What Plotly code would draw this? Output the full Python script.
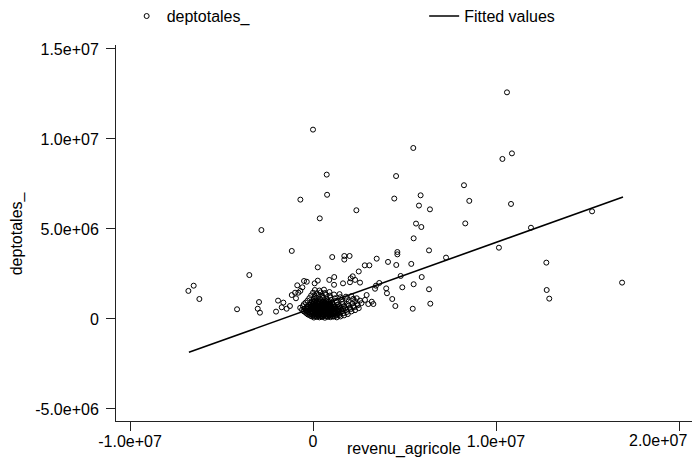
import plotly.graph_objects as go

# values in millions
# scattered observations (revenu_agricole, deptotales_)
outliers = [
    (0.0, 10.52), (0.75, 8.02), (0.77, 6.9), (-0.69, 6.63), (2.37, 6.04), (0.37, 5.59),
    (-2.82, 4.94), (-1.16, 3.78), (1.05, 3.44), (1.71, 3.5), (2.0, 3.5), (1.71, 3.3),
    (3.48, 3.35), (10.6, 12.59), (5.48, 9.5), (10.87, 9.2), (10.35, 8.89), (4.54, 7.94),
    (8.25, 7.43), (4.44, 6.69), (5.88, 6.87), (8.54, 6.56), (5.79, 6.3), (6.39, 6.09),
    (10.82, 6.39), (5.63, 5.3), (5.92, 5.11), (8.32, 5.31), (15.25, 5.98), (11.91, 5.07),
    (5.5, 4.48), (10.16, 3.96), (4.61, 3.72), (4.61, 3.59), (6.34, 3.81), (7.27, 3.41),
    (4.1, 3.17), (4.55, 3.0), (5.37, 3.06), (12.75, 3.13), (4.79, 2.39), (5.94, 2.33),
    (4.0, 1.7), (4.04, 1.43), (4.88, 1.76), (5.5, 1.93), (6.34, 1.65), (12.77, 1.61),
    (12.91, 1.13), (16.89, 2.02), (4.33, 1.11), (4.5, 0.72), (5.45, 0.57), (6.41, 0.85),
    (-6.81, 1.56), (-6.52, 1.85), (-6.21, 1.11), (-4.15, 0.54), (-3.48, 2.44),
    (2.83, 2.98), (3.08, 2.98), (0.26, 2.87), (2.5, 2.64), (3.44, 1.85), (3.62, 2.0),
    (3.39, 1.68), (2.57, 2.02), (2.17, 2.37), (2.06, 2.26), (2.3, 2.17), (1.16, 2.33),
    (0.89, 2.17), (1.64, 1.98), (1.15, 1.9), (2.02, 2.04), (-0.49, 2.11), (-0.34, 2.07),
    (-0.86, 1.87), (-0.98, 1.46), (-0.69, 1.56), (0.26, 2.13), (0.09, 1.98),
    (-2.95, 0.94), (-3.02, 0.57), (-2.9, 0.35), (-1.91, 1.02), (-1.62, 0.91),
    (-2.02, 0.41), (-1.71, 0.65), (-1.44, 0.57), (-1.26, 0.72), (-1.16, 1.33),
    (-0.93, 1.15), (-0.8, 1.46), (-0.58, 1.76), (2.93, 1.33), (2.84, 1.06), (3.21, 0.96),
    (3.3, 0.83), (3.02, 0.83), (2.57, 1.02), (2.39, 1.15),
]

# the dense cloud around the origin
cluster = [
    (0.05, 0.08), (0.2, 0.12), (0.35, 0.09), (0.5, 0.11), (0.65, 0.07), (0.8, 0.12),
    (0.95, 0.1), (1.1, 0.13), (1.3, 0.09), (1.5, 0.14),
    (-0.2, 0.22), (0.0, 0.18), (0.15, 0.24), (0.3, 0.2), (0.45, 0.17), (0.6, 0.23),
    (0.75, 0.19), (0.9, 0.21), (1.05, 0.25), (1.25, 0.18), (1.45, 0.22), (1.7, 0.2),
    (-0.35, 0.31), (-0.1, 0.28), (0.1, 0.33), (0.25, 0.29), (0.4, 0.32), (0.55, 0.27),
    (0.7, 0.34), (0.85, 0.3), (1.0, 0.28), (1.2, 0.33), (1.4, 0.29), (1.65, 0.32), (1.9, 0.27),
    (-0.5, 0.42), (-0.25, 0.38), (-0.05, 0.41), (0.12, 0.44), (0.28, 0.39), (0.42, 0.43),
    (0.58, 0.37), (0.72, 0.42), (0.88, 0.4), (1.03, 0.45), (1.18, 0.38), (1.35, 0.41),
    (1.6, 0.44), (1.85, 0.39), (2.1, 0.42),
    (-0.6, 0.51), (-0.4, 0.48), (-0.15, 0.53), (0.05, 0.49), (0.2, 0.52), (0.35, 0.47),
    (0.5, 0.54), (0.65, 0.5), (0.8, 0.48), (0.95, 0.53), (1.1, 0.51), (1.3, 0.47),
    (1.55, 0.52), (1.8, 0.5), (2.05, 0.55), (2.3, 0.49),
    (-0.7, 0.62), (-0.45, 0.58), (-0.2, 0.61), (0.0, 0.64), (0.18, 0.59), (0.32, 0.63),
    (0.48, 0.6), (0.62, 0.57), (0.78, 0.62), (0.92, 0.65), (1.08, 0.59), (1.25, 0.61),
    (1.5, 0.63), (1.75, 0.58), (2.0, 0.62), (2.25, 0.66), (2.5, 0.6),
    (-0.55, 0.71), (-0.3, 0.68), (-0.08, 0.73), (0.1, 0.69), (0.25, 0.72), (0.4, 0.7),
    (0.55, 0.74), (0.7, 0.68), (0.85, 0.71), (1.0, 0.73), (1.2, 0.69), (1.45, 0.72),
    (1.7, 0.7), (1.95, 0.74), (2.2, 0.71), (2.45, 0.76),
    (-0.5, 0.82), (-0.22, 0.79), (0.02, 0.83), (0.15, 0.8), (0.3, 0.84), (0.45, 0.78),
    (0.6, 0.81), (0.75, 0.85), (0.9, 0.79), (1.1, 0.82), (1.35, 0.8), (1.6, 0.84),
    (1.9, 0.81), (2.15, 0.86), (2.4, 0.83), (2.65, 0.88),
    (-0.4, 0.91), (-0.12, 0.88), (0.08, 0.93), (0.22, 0.9), (0.38, 0.87), (0.52, 0.92),
    (0.68, 0.89), (0.85, 0.94), (1.05, 0.9), (1.3, 0.93), (1.6, 0.95), (1.95, 0.97), (2.3, 0.99),
    (-0.3, 1.02), (-0.05, 0.99), (0.12, 1.03), (0.28, 1.0), (0.45, 1.04), (0.62, 0.98),
    (0.8, 1.02), (1.0, 1.05), (1.25, 1.01), (1.55, 1.07), (1.85, 1.1), (2.2, 1.12),
    (-0.2, 1.16), (0.05, 1.13), (0.2, 1.18), (0.38, 1.14), (0.55, 1.17), (0.75, 1.12),
    (0.95, 1.19), (1.2, 1.15), (1.5, 1.21), (1.8, 1.24), (2.1, 1.27),
    (-0.1, 1.31), (0.1, 1.28), (0.3, 1.33), (0.5, 1.29), (0.7, 1.34), (0.92, 1.3),
    (1.15, 1.36), (1.45, 1.38),
    (0.0, 1.46), (0.2, 1.43), (0.42, 1.48), (0.65, 1.44), (0.9, 1.5),
    (0.1, 1.61), (0.35, 1.58), (0.6, 1.63),
    # core, densest part
    (-0.1, 0.15), (0.08, 0.16), (0.22, 0.14), (0.38, 0.17), (0.52, 0.15), (0.68, 0.16),
    (0.82, 0.14), (0.98, 0.17), (1.15, 0.15),
    (-0.28, 0.25), (-0.08, 0.26), (0.05, 0.24), (0.22, 0.27), (0.36, 0.25), (0.5, 0.26),
    (0.66, 0.24), (0.8, 0.27), (0.96, 0.25), (1.12, 0.26), (1.32, 0.24),
    (-0.4, 0.36), (-0.18, 0.35), (0.02, 0.37), (0.18, 0.36), (0.34, 0.35), (0.48, 0.37),
    (0.64, 0.36), (0.8, 0.35), (0.94, 0.37), (1.1, 0.36), (1.28, 0.35), (1.5, 0.37),
    (-0.32, 0.46), (-0.1, 0.47), (0.08, 0.45), (0.24, 0.46), (0.4, 0.48), (0.56, 0.46),
    (0.7, 0.45), (0.84, 0.47), (1.0, 0.46), (1.15, 0.45), (1.42, 0.47),
    (-0.3, 0.56), (-0.05, 0.57), (0.12, 0.55), (0.26, 0.56), (0.42, 0.58), (0.56, 0.55),
    (0.72, 0.56), (0.86, 0.57), (1.02, 0.55), (1.18, 0.56), (1.4, 0.57), (1.65, 0.55),
    (-0.35, 0.66), (-0.12, 0.67), (0.06, 0.65), (0.22, 0.66), (0.38, 0.67), (0.52, 0.65),
    (0.68, 0.66), (0.84, 0.67), (0.98, 0.65), (1.15, 0.66), (1.35, 0.67),
    (-0.15, 0.76), (0.04, 0.77), (0.2, 0.75), (0.36, 0.76), (0.5, 0.77), (0.64, 0.75),
    (0.8, 0.76), (0.96, 0.77), (1.12, 0.75),
    (-0.02, 0.86), (0.14, 0.87), (0.3, 0.85), (0.46, 0.86), (0.6, 0.87), (0.76, 0.85),
    (0.94, 0.86),
    (0.04, 0.96), (0.2, 0.97), (0.36, 0.95), (0.54, 0.96), (0.72, 0.97),
]

# fitted values line end points
fit_x = [-6.78, 16.94]
fit_y = [-1.85, 6.78]

points = outliers + cluster
revenu = [p[0] * 1e6 for p in points]
deptot = [p[1] * 1e6 for p in points]

x_ticks = [-1e7, 0, 1e7, 2e7]
x_ticktext = ["-1.0e+07", "0", "1.0e+07", ""]  # last label drawn shifted, as Stata does
y_ticks = [-5e6, 0, 5e6, 1e7, 1.5e7]
y_ticktext = ["-5.0e+06", "0", "5.0e+06", "1.0e+07", "1.5e+07"]

fnt = "Liberation Sans, Arial, sans-serif"
fs = 16

fig = go.Figure()
fig.add_trace(go.Scatter(
    x=revenu, y=deptot, mode="markers", name="deptotales_", legend="legend",
    marker=dict(symbol="circle-open", size=5, color="black", line=dict(width=1, color="black")),
))
fig.add_trace(go.Scatter(
    x=[v * 1e6 for v in fit_x], y=[v * 1e6 for v in fit_y], mode="lines",
    name="Fitted values", legend="legend2", line=dict(color="black", width=1.6),
))

axis_style = dict(
    showgrid=False, zeroline=False, showline=True, linecolor="#222", linewidth=1,
    ticks="outside", ticklen=9, tickcolor="#222", tickwidth=1, automargin=False,
    tickfont=dict(size=fs, color="black"),
)

leg = dict(orientation="h", xanchor="left", yanchor="top", y=1.122,
           font=dict(size=fs), bgcolor="rgba(0,0,0,0)")

fig.update_layout(
    width=694, height=461,
    margin=dict(l=116, r=2, t=45, b=40, autoexpand=False),
    paper_bgcolor="white", plot_bgcolor="white",
    font=dict(family=fnt, size=fs, color="black"),
    xaxis=dict(range=[-10.765e6, 20.71e6], tickvals=x_ticks, ticktext=x_ticktext,
               ticklabelstandoff=-3, **axis_style),
    yaxis=dict(range=[-5.667e6, 15.22e6], tickvals=y_ticks, ticktext=y_ticktext,
               ticklabelstandoff=4, **axis_style),
    legend=dict(x=0.0185, **leg),
    legend2=dict(x=0.535, **leg),
    showlegend=True,
    annotations=[
        dict(text="2.0e+07", xref="x", yref="paper", x=x_ticks[-1], y=0,
             xanchor="right", yanchor="top", xshift=10, yshift=-9,
             showarrow=False, font=dict(size=fs)),
        dict(text="revenu_agricole", xref="paper", yref="paper", x=0.5, y=-0.0745,
             xanchor="center", yanchor="middle", showarrow=False, font=dict(size=fs)),
        dict(text="deptotales_", xref="paper", yref="paper", x=-0.1714, y=0.5,
             xanchor="center", yanchor="middle", textangle=-90, showarrow=False,
             font=dict(size=fs)),
    ],
)

fig.write_html("out.html", config={"displayModeBar": False},
               post_script="document.body.style.margin='0';")
